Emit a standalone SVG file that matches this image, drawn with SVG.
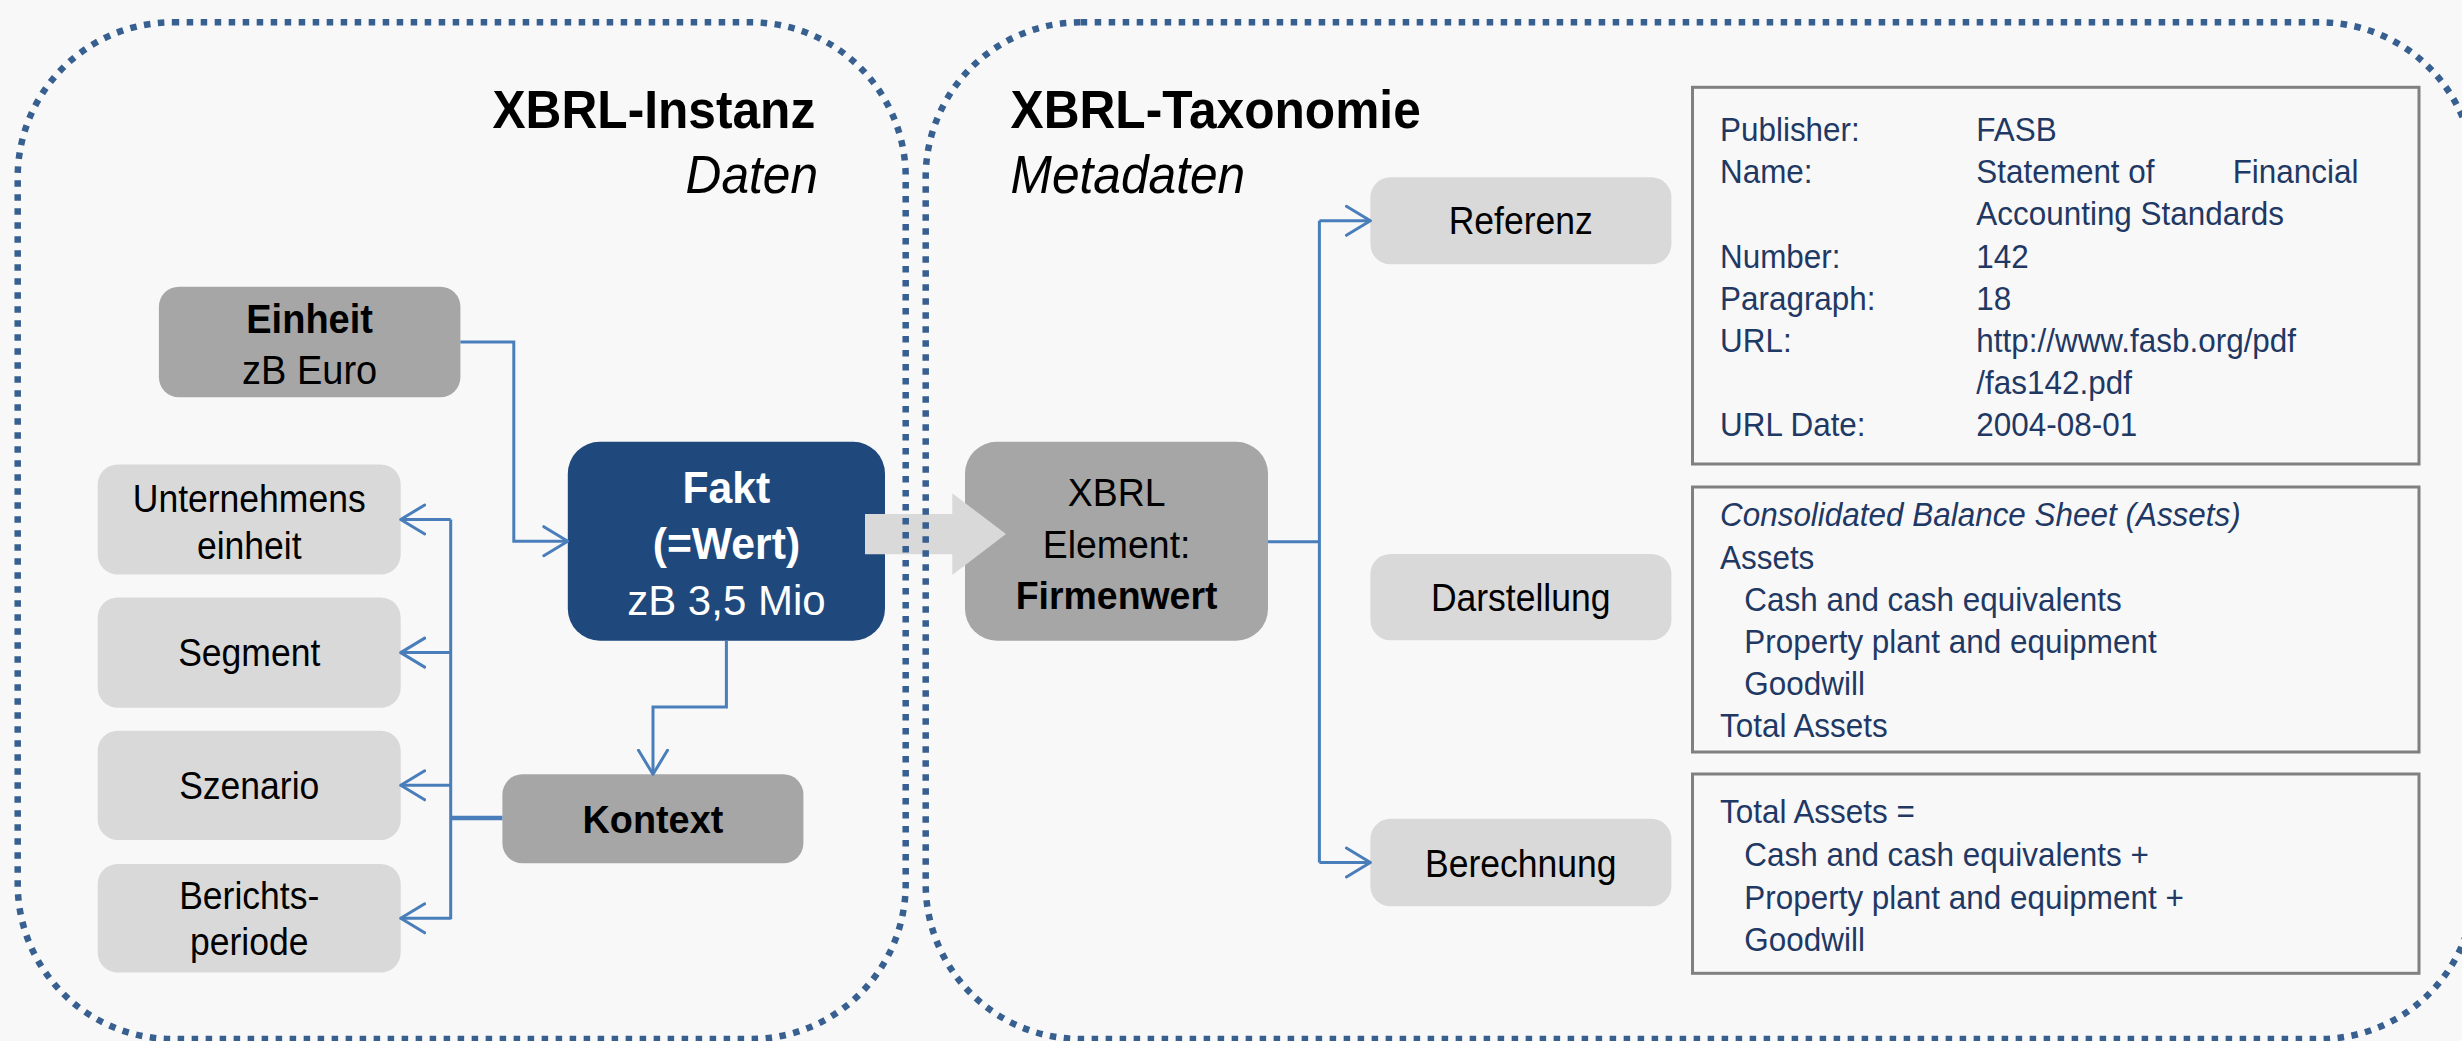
<svg xmlns="http://www.w3.org/2000/svg" width="2462" height="1041" viewBox="0 0 2462 1041">
<defs>
<style>
text{font-family:"Liberation Sans",Arial,Helvetica,sans-serif;fill:#000}
.t{font-size:38px;text-anchor:middle}
.b{font-weight:bold}
.w{fill:#fff}
.ttl{font-size:54px;font-weight:bold}
.sub{font-size:54px;font-style:italic}
.info{font-size:34px;fill:#1f3864}
.it{font-style:italic}
.dark{fill:#a6a6a6}
.light{fill:#d9d9d9}
.fakt{fill:#1f497d}
.frame{fill:none;stroke:#375f8f;stroke-width:6.5;stroke-dasharray:6.5 7.5}
.box{fill:none;stroke:#808080;stroke-width:3}
.con{fill:none;stroke:#4a7ebb;stroke-width:3}
</style>
<marker id="ah" markerUnits="userSpaceOnUse" viewBox="0 0 28 34" markerWidth="28" markerHeight="34" refX="25.5" refY="17" orient="auto">
<path d="M1.5,2.5 L25.5,17 L1.5,31.5" fill="none" stroke="#4a7ebb" stroke-width="3" stroke-linecap="round" stroke-linejoin="round"/>
</marker>
</defs>
<rect x="0" y="0" width="2462" height="1041" fill="#f8f8f8"/>

<g id="node-einheit">
<rect class="dark" x="158.9" y="286.7" width="301.5" height="110.6" rx="20"/>
<g transform="translate(309.6,0) scale(0.95,1)"><text class="t b" x="0" y="333.3" style="font-size:40px">Einheit</text><text class="t" x="0" y="384" style="font-size:40px">zB Euro</text></g>
</g>
<g id="node-unternehmenseinheit">
<rect class="light" x="97.7" y="464.4" width="303" height="110.2" rx="20"/>
<g transform="translate(249.2,0) scale(0.935,1)"><text class="t" x="0" y="511.9">Unternehmens</text><text class="t" x="0" y="558.6">einheit</text></g>
</g>
<g id="node-segment">
<rect class="light" x="97.7" y="597.4" width="303" height="110.4" rx="20"/>
<g transform="translate(249.2,0) scale(0.935,1)"><text class="t" x="0" y="666.5">Segment</text></g>
</g>
<g id="node-szenario">
<rect class="light" x="97.7" y="730.7" width="303" height="109.2" rx="20"/>
<g transform="translate(249.2,0) scale(0.935,1)"><text class="t" x="0" y="799.5">Szenario</text></g>
</g>
<g id="node-berichtsperiode">
<rect class="light" x="97.7" y="864" width="303" height="108.5" rx="20"/>
<g transform="translate(249.2,0) scale(0.935,1)"><text class="t" x="0" y="909.5">Berichts-</text><text class="t" x="0" y="955.5">periode</text></g>
</g>
<g id="node-fakt">
<rect class="fakt" x="567.8" y="441.7" width="317.2" height="199" rx="32"/>
<g transform="translate(726.4,0) scale(0.97,1)"><text class="t b w" x="0" y="503.2" style="font-size:44px">Fakt</text><text class="t b w" x="0" y="559.4" style="font-size:44px">(=Wert)</text></g>
<text class="t w" x="726.4" y="614.9" style="font-size:42px">zB 3,5 Mio</text>
</g>
<g id="node-kontext">
<rect class="dark" x="502.4" y="774.3" width="301" height="89" rx="20"/>
<g transform="translate(652.9,0) scale(0.97,1)"><text class="t b" x="0" y="833.4" style="font-size:39px">Kontext</text></g>
</g>
<g id="node-xbrl-element">
<rect class="dark" x="965" y="441.7" width="303" height="199" rx="32"/>
<g transform="translate(1116.6,0) scale(0.985,1)"><text class="t" x="0" y="506.3">XBRL</text><text class="t" x="0" y="557.8">Element:</text><text class="t b" x="0" y="609.3">Firmenwert</text></g>
</g>
<g id="node-referenz">
<rect class="light" x="1370.4" y="177.3" width="301" height="87" rx="20"/>
<g transform="translate(1520.7,0) scale(0.935,1)"><text class="t" x="0" y="234.5">Referenz</text></g>
</g>
<g id="node-darstellung">
<rect class="light" x="1370.4" y="553.9" width="301" height="86.3" rx="20"/>
<g transform="translate(1520.7,0) scale(0.935,1)"><text class="t" x="0" y="611.5">Darstellung</text></g>
</g>
<g id="node-berechnung">
<rect class="light" x="1370.4" y="818.8" width="301" height="87.5" rx="20"/>
<g transform="translate(1520.7,0) scale(0.935,1)"><text class="t" x="0" y="877">Berechnung</text></g>
</g>

<g id="node-info-referenz">
<rect class="box" x="1692.5" y="87.3" width="726.5" height="376.7"/>
<g transform="translate(1720,0) scale(0.925,1)">
<text class="info" x="0" y="141">Publisher:</text><text class="info" x="277.1" y="141">FASB</text>
<text class="info" x="0" y="183.2">Name:</text><text class="info" x="277.1" y="183.2">Statement of</text><text class="info" x="554.2" y="183.2">Financial</text>
<text class="info" x="277.1" y="225.4">Accounting Standards</text>
<text class="info" x="0" y="267.6">Number:</text><text class="info" x="277.1" y="267.6">142</text>
<text class="info" x="0" y="309.8">Paragraph:</text><text class="info" x="277.1" y="309.8">18</text>
<text class="info" x="0" y="352">URL:</text><text class="info" x="277.1" y="352">http://www.fasb.org/pdf</text>
<text class="info" x="277.1" y="394.2">/fas142.pdf</text>
<text class="info" x="0" y="436.4">URL Date:</text><text class="info" x="277.1" y="436.4">2004-08-01</text>
</g>
</g>
<g id="node-info-darstellung">
<rect class="box" x="1692.5" y="487" width="726.5" height="265"/>
<g transform="translate(1720,0) scale(0.925,1)">
<text class="info it" x="0" y="526.5">Consolidated Balance Sheet (Assets)</text>
<text class="info" x="0" y="568.7">Assets</text>
<text class="info" x="26.3" y="610.9">Cash and cash equivalents</text>
<text class="info" x="26.3" y="653.1">Property plant and equipment</text>
<text class="info" x="26.3" y="695.3">Goodwill</text>
<text class="info" x="0" y="737.5">Total Assets</text>
</g>
</g>
<g id="node-info-berechnung">
<rect class="box" x="1692.5" y="774" width="726.5" height="199.3"/>
<g transform="translate(1720,0) scale(0.925,1)">
<text class="info" x="0" y="823.5">Total Assets =</text>
<text class="info" x="26.3" y="866.1">Cash and cash equivalents +</text>
<text class="info" x="26.3" y="908.7">Property plant and equipment +</text>
<text class="info" x="26.3" y="951.3">Goodwill</text>
</g>
</g>

<g id="connectors">
<path class="con" d="M460.4,342 H513.8 V541.2 H567.8" marker-end="url(#ah)"/>
<path class="con" d="M726.4,640.7 V707 H653 V774.3" marker-end="url(#ah)"/>
<path class="con" d="M502.4,818 H450.7" style="stroke-width:4.5"/>
<path class="con" d="M450.7,519.5 V919.3"/>
<path class="con" d="M450.7,519.5 H400.7" marker-end="url(#ah)"/>
<path class="con" d="M450.7,652.6 H400.7" marker-end="url(#ah)"/>
<path class="con" d="M450.7,785.3 H400.7" marker-end="url(#ah)"/>
<path class="con" d="M450.7,918.3 H400.7" marker-end="url(#ah)"/>
<path class="con" d="M1268,541.7 H1319.4"/>
<path class="con" d="M1319.4,220.8 V862.5"/>
<path class="con" d="M1319.4,220.8 H1370.4" marker-end="url(#ah)"/>
<path class="con" d="M1319.4,862.5 H1370.4" marker-end="url(#ah)"/>
<polygon points="865,514 952.3,514 952.3,493.3 1006,534.1 952.3,575 952.3,554.3 865,554.3" fill="#d9d9d9"/>
</g>

<g id="frame-instanz">
<rect class="frame" x="17.7" y="22.3" width="888" height="1016.7" rx="155"/>
<g transform="translate(815.3,0) scale(0.92,1)"><text class="ttl" x="0" y="127.7" text-anchor="end">XBRL-Instanz</text><text class="sub" x="3" y="192.7" text-anchor="end">Daten</text></g>
</g>
<g id="frame-taxonomie">
<rect class="frame" x="925.7" y="22.3" width="1549" height="1016.7" rx="155"/>
<g transform="translate(1010.5,0) scale(0.92,1)"><text class="ttl" x="0" y="127.7">XBRL-Taxonomie</text><text class="sub" x="0" y="192.7">Metadaten</text></g>
</g>
</svg>
